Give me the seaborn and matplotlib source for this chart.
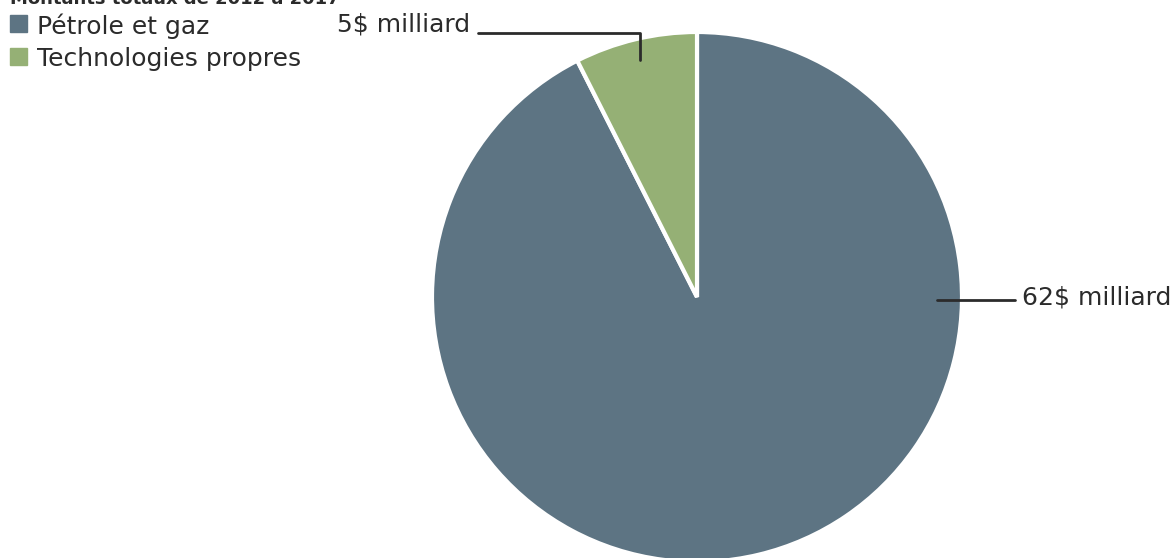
import matplotlib
matplotlib.use("Agg")
import matplotlib.pyplot as plt
import matplotlib.patches as mpatches
import numpy as np
import seaborn as sns

categories = ["Pétrole et gaz", "Technologies propres"]
values = [62, 5]
value_labels = ["62$ milliard", "5$ milliard"]
title = "Montants totaux de 2012 à 2017"

sns.set_theme(style="white")
plt.rcParams['font.family'] = ['DejaVu Sans']
colors = ["#5d7483", "#95b075"]
text_color = "#2b2b2b"

W, H = 1176, 558
fig = plt.figure(figsize=(W / 100, H / 100), dpi=100)
ax = fig.add_axes([0, 0, 1, 1])
cx, cy, R = 697, 297, 265
ax.axis("off")

wedges, _ = ax.pie(values, colors=colors, startangle=90, counterclock=False,
                   radius=1.0, wedgeprops=dict(edgecolor="white", linewidth=3))
ax.set_xlim(-cx / R, (W - cx) / R)
ax.set_ylim((cy - H) / R, cy / R)
ax.set_aspect("auto")

fs = 18
# label for big slice (right side)
ax.plot([0.905, 1.2], [-0.01, -0.01], color=text_color, lw=2)
ax.text(1.225, 0.0, value_labels[0], ha="left", va="center", fontsize=fs,
        color=text_color)

# label for small slice (top)
w = wedges[1]
mid = np.deg2rad((w.theta1 + w.theta2) / 2)
x0 = 0.92 * np.cos(mid)
ax.plot([x0, x0, -0.826], [0.895, 0.997, 0.997], color=text_color, lw=2)
ax.text(-0.857, 1.03, value_labels[1], ha="right", va="center", fontsize=fs,
        color=text_color)

# legend, drawn manually in figure pixel terms
for i, (c, l) in enumerate(zip(colors, categories)):
    yc = 23.5 + 33 * i
    fig.patches.append(mpatches.Rectangle((10 / W, 1 - (yc + 8.5) / H), 17 / W, 17 / H,
                                          transform=fig.transFigure, color=c))
    fig.text(37 / W, 1 - yc / H, l, ha="left", va="center_baseline", fontsize=fs,
             color=text_color)

fig.text(10 / W, 1.0 + 10 / H, title, ha="left", va="top", fontsize=13,
         fontweight="bold", color=text_color)

fig.savefig("out.png", dpi=100)
